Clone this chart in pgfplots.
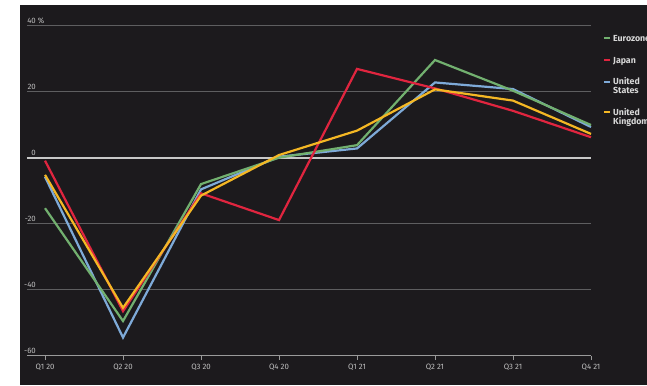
\documentclass[border=0pt]{standalone}
\usepackage{pgfplots}
\pgfplotsset{compat=1.18}
\usepackage{fontspec}
\setmainfont{Fira Sans}
\definecolor{bg}{HTML}{1C1A1D}
\definecolor{eur}{HTML}{72B06F}
\definecolor{jpn}{HTML}{E0253F}
\definecolor{usa}{HTML}{7EAAD8}
\definecolor{gbr}{HTML}{F4B724}
\definecolor{gridc}{HTML}{5E5E60}
\definecolor{zeroc}{HTML}{C8C8C8}
\definecolor{axisc}{HTML}{9A9A9A}
\definecolor{tickc}{HTML}{BEBEBE}
\definecolor{legc}{HTML}{D8D8D8}
\begin{document}
\begin{tikzpicture}[x=1pt,y=1pt]
\fill[white] (0,0) rectangle (647,385);
\fill[bg] (20,0) rectangle (647,380);
\begin{axis}[at={(27pt,29.3pt)}, anchor=south west, scale only axis,
  width=564pt, height=330pt,
  xmin=-0.231, xmax=7, ymin=-60, ymax=40,
  axis x line*=bottom, axis y line*=left,
  x axis line style={-, draw=axisc, line width=1.2pt},
  y axis line style={draw=none},
  xtick={0,...,7},
  xticklabels={Q1 20,Q2 20,Q3 20,Q4 20,Q1 21,Q2 21,Q3 21,Q4 21},
  tick align=outside, major tick length=4pt,
  xtick style={draw=axisc, line width=0.8pt},
  ytick={-60,-40,-20,0,20,40},
  yticklabels={-60,-40,-20,0,20,40\rlap{ \%}},
  ytick style={draw=none},
  ymajorgrids, grid style={gridc, line width=1.5pt},
  extra y ticks={0}, extra y tick labels={},
  extra y tick style={grid style={zeroc, line width=2pt}, major tick length=0pt},
  xticklabel style={font=\fontsize{7.8}{9}\selectfont, color=tickc, yshift=-1pt},
  yticklabel style={font=\fontsize{7.8}{9}\selectfont, color=tickc, anchor=south east, inner sep=1pt, xshift=14pt, yshift=1pt},
  clip=false,
]
\addplot[usa, line width=2.2pt, line join=miter] coordinates {(0,-5.8) (1,-54.5) (2,-9.6) (3,0.3) (4,2.8) (5,22.8) (6,20.8) (7,9.3)};
\addplot[eur, line width=2.2pt, line join=miter] coordinates {(0,-15.3) (1,-49.5) (2,-8) (3,0) (4,3.8) (5,29.6) (6,20.3) (7,9.9)};
\addplot[jpn, line width=2.2pt, line join=miter] coordinates {(0,-0.9) (1,-46.5) (2,-10.8) (3,-18.9) (4,26.9) (5,21) (6,14.2) (7,6.2)};
\addplot[gbr, line width=2.2pt, line join=miter] coordinates {(0,-5.2) (1,-45.5) (2,-11.5) (3,0.8) (4,8.2) (5,20.7) (6,17.3) (7,7.2)};
\end{axis}
\begin{scope}[every node/.style={anchor=base west, inner sep=0pt, font=\bfseries\fontsize{8.8}{10}\selectfont, text=legc}]
\draw[eur, line width=1.8pt] (604,346.7) -- (610,346.7);
\node at (613,343.6) {Eurozone};
\draw[jpn, line width=1.8pt] (604,325) -- (610,325);
\node at (613,321.9) {Japan};
\draw[usa, line width=1.8pt] (604,303.3) -- (610,303.3);
\node at (613,300.2) {United};
\node at (613,291) {States};
\draw[gbr, line width=1.8pt] (604,272.7) -- (610,272.7);
\node at (613,269.6) {United};
\node at (613,260.4) {Kingdom};
\end{scope}
\pgfresetboundingbox
\path[use as bounding box] (0,0) rectangle (647,385);
\end{tikzpicture}
\end{document}
